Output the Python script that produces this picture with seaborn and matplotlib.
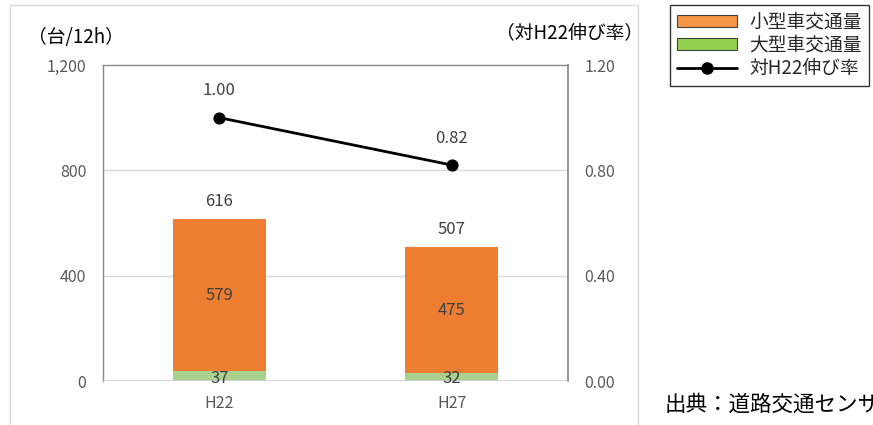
import matplotlib
matplotlib.use("Agg")
import matplotlib.pyplot as plt
import seaborn as sns
import pandas as pd
import numpy as np
from matplotlib.patches import Rectangle, Patch
from matplotlib.lines import Line2D

sns.set_theme(style="white")
plt.rcParams['font.family'] = ['Noto Sans CJK JP', 'DejaVu Sans']

categories = ["H22", "H27"]
small_vehicles = [579, 475]
large_vehicles = [37, 32]
totals = [616, 507]
growth = [1.00, 0.82]
growth_labels = ["1.00", "0.82"]

df = pd.DataFrame({"cat": categories, "small": small_vehicles, "large": large_vehicles,
                   "total": totals, "growth": growth})

fig = plt.figure(figsize=(8.73, 4.25), dpi=100)
W, H = 873, 425
ax = fig.add_axes([103 / W, 1 - 381 / H, (568 - 103) / W, (381 - 65) / H])

orange = "#ED7D31"
green = "#A9D18E"

sns.barplot(data=df, x="cat", y="total", color=orange, width=0.4, ax=ax,
            saturation=1, edgecolor="none")
sns.barplot(data=df, x="cat", y="large", color=green, width=0.4, ax=ax,
            saturation=1, edgecolor="none")

ax.set_ylim(0, 1200)
ax.set_xlim(-0.5, 1.5)
ax.set_yticks([0, 400, 800, 1200])
ax.set_yticklabels(["0", "400", "800", "1,200"])
ax.set_xlabel("")
ax.set_ylabel("")
for y in [400, 800]:
    ax.axhline(y, color="#D9D9D9", lw=1, zorder=0)
ax.axhline(0, color="#D0D0D0", lw=2, zorder=3)
for s in ["left", "top"]:
    ax.spines[s].set_color("#888888")
    ax.spines[s].set_linewidth(1)
ax.spines["right"].set_color("#888888")
ax.spines["bottom"].set_visible(False)
ax.tick_params(axis="both", length=0, colors="#595959", labelsize=11.5, pad=12)
ax.tick_params(axis="x", pad=10)

xs = np.arange(len(categories))
for i in xs:
    ax.text(i, totals[i] + 35, f"{totals[i]}", ha="center", va="bottom", fontsize=12, color="#404040")
    ax.text(i, large_vehicles[i] + small_vehicles[i] / 2, f"{small_vehicles[i]}", ha="center", va="center",
            fontsize=12, color="#404040")
    ax.text(i, 8, f"{large_vehicles[i]}", ha="center", va="center",
            fontsize=12, color="#404040", zorder=5)

ax2 = ax.twinx()
ax2.set_ylim(0, 1.2)
ax2.set_yticks([0, 0.4, 0.8, 1.2])
ax2.set_yticklabels(["0.00", "0.40", "0.80", "1.20"])
sns.lineplot(x=xs, y=growth, ax=ax2, color="black", lw=2, marker="o", markersize=8,
             markeredgecolor="black", legend=False)
for i in xs:
    ax2.text(i, growth[i] + 0.07, growth_labels[i], ha="center", va="bottom", fontsize=12, color="#404040")
ax2.tick_params(axis="y", length=0, colors="#595959", labelsize=11.5, pad=12)
for s in ax2.spines.values():
    s.set_visible(False)
ax2.set_xlim(-0.5, 1.5)

fig.text(28 / W, 1 - 38 / H, "（台/12h）", fontsize=13.5, color="black", va="center")
fig.text(496 / W, 1 - 33 / H, "（対H22伸び率）", fontsize=13.5, color="black", va="center")

# outer chart frame
fig.patches.append(Rectangle((10 / W, -0.05), (638 - 10) / W, 1 - 5 / H + 0.05,
                             transform=fig.transFigure, fill=False, edgecolor="#D9D9D9", lw=1))

handles = [Patch(facecolor="#F79646", edgecolor="#404040", lw=0.8),
           Patch(facecolor="#92D050", edgecolor="#404040", lw=0.8),
           Line2D([0], [0], color="black", lw=2, marker="o", markersize=8)]
labels = ["小型車交通量", "大型車交通量", "対H22伸び率"]
leg = fig.legend(handles, labels, loc="upper left", bbox_to_anchor=(670 / W, 1 - 5 / H),
                 frameon=True, fontsize=13.5, handlelength=3.2, handleheight=0.6,
                 borderpad=0.35, labelspacing=0.12, handletextpad=0.7, fancybox=False,
                 borderaxespad=0)
leg.get_frame().set_edgecolor("black")
leg.get_frame().set_linewidth(1)

fig.text(665 / W, 1 - 405 / H, "出典：道路交通センサス", fontsize=15.5, color="black", va="center")

fig.savefig("out.png", dpi=100)
